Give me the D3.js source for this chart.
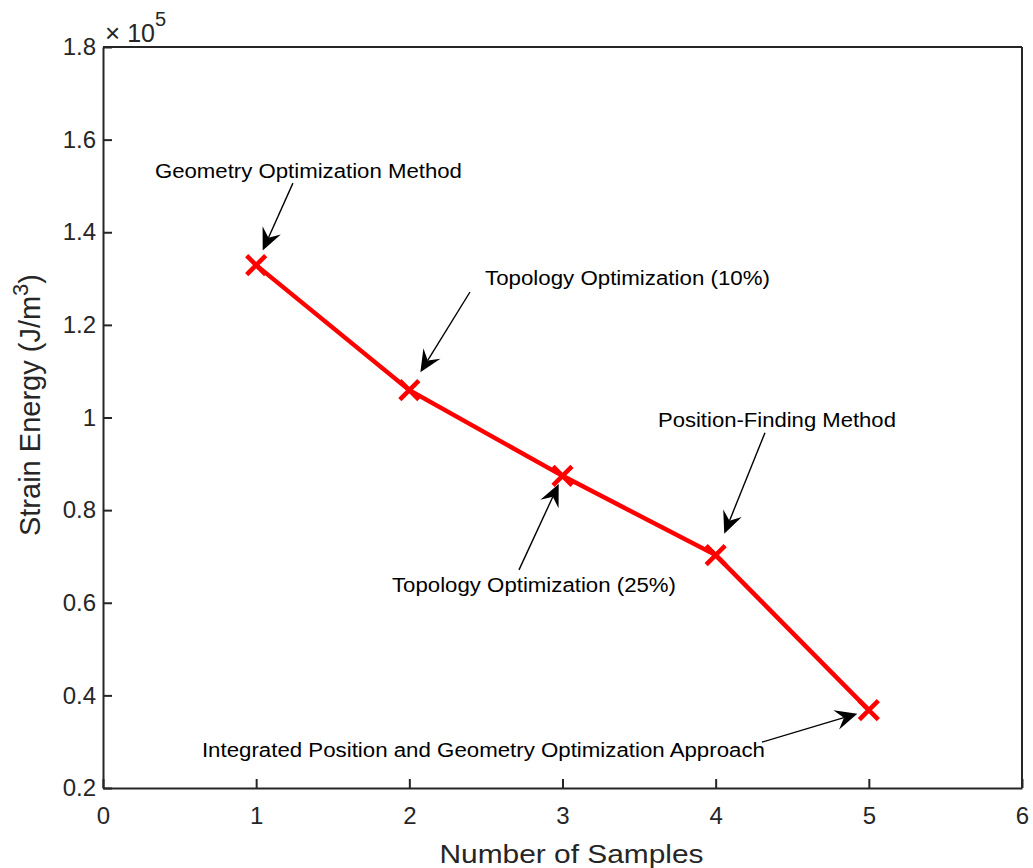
<!DOCTYPE html>
<html>
<head>
<meta charset="utf-8">
<script src="https://cdn.jsdelivr.net/npm/d3@7"></script>
<style>
body { margin: 0; background: #fff; }
text { font-family: "Liberation Sans", Arial, Helvetica, sans-serif; }
</style>
</head>
<body>
<div class="container"></div>
<script>
// data (strain energy in J/m^3)
var samples = [1, 2, 3, 4, 5];
var energy = [132900, 105900, 87400, 70300, 36800];
var xTicks = [0, 1, 2, 3, 4, 5, 6];
var yTicks = [0.2, 0.4, 0.6, 0.8, 1, 1.2, 1.4, 1.6, 1.8];

// annotation labels: text origin and arrow tail in data units, arrow points at sample idx
var notes = [
	{label: 'Geometry Optimization Method', tx: 0.339, ty: 1.517, ax: 1.24, ay: 1.506, gap: 16, len: 307, idx: 0},
	{label: 'Topology Optimization (10%)', tx: 2.494, ty: 1.286, ax: 2.396, ay: 1.271, gap: 21, len: 285, idx: 1},
	{label: 'Position-Finding Method', tx: 3.623, ty: 0.98, ax: 4.322, ay: 0.967, gap: 23, len: 238, idx: 3},
	{label: 'Topology Optimization (25%)', tx: 1.887, ty: 0.623, ax: 2.716, ay: 0.671, gap: 9, len: 284, idx: 2},
	{label: 'Integrated Position and Geometry Optimization Approach', tx: 0.646, ty: 0.267, ax: 4.302, ay: 0.299, gap: 12, len: 563, idx: 4}
];

var W = 1033, H = 868;
var margin = {left: 103, right: 11, top: 47, bottom: 80};

var svg = d3.select('.container').append('svg')
	.attr('width', W)
	.attr('height', H);

var x = d3.scaleLinear().domain([0, 6]).range([margin.left, W - margin.right]);
var y = d3.scaleLinear().domain([0.2, 1.8]).range([H - margin.bottom, margin.top]);

var axisColor = '#262626';

// axes (ticks inward)
var xAxis = svg.append('g')
	.attr('transform', 'translate(0,' + (H - margin.bottom) + ')')
	.call(d3.axisBottom(x).tickValues(xTicks).tickSizeInner(-9).tickSizeOuter(0).tickPadding(19).tickFormat(d3.format('d')));
var yAxis = svg.append('g')
	.attr('transform', 'translate(' + margin.left + ',0)')
	.call(d3.axisLeft(y).tickValues(yTicks).tickSizeInner(-9).tickSizeOuter(0).tickPadding(7).tickFormat(function(d){ return String(+d.toFixed(1)); }));

[xAxis, yAxis].forEach(function(a){
	a.select('.domain').attr('stroke', axisColor).attr('stroke-width', 2);
	a.selectAll('.tick line').attr('stroke', axisColor).attr('stroke-width', 2);
	a.selectAll('.tick text').attr('fill', axisColor).style('font-size', '24px');
});
xAxis.selectAll('.tick text').attr('dy', '0.71em');

// box top and right
svg.append('line')
	.attr('x1', x(0)).attr('x2', x(6)).attr('y1', y(1.8)).attr('y2', y(1.8))
	.attr('stroke', axisColor).attr('stroke-width', 2);
svg.append('line')
	.attr('x1', x(6)).attr('x2', x(6)).attr('y1', y(1.8)).attr('y2', y(0.2))
	.attr('stroke', axisColor).attr('stroke-width', 2);

// exponent label
var expo = svg.append('text')
	.attr('x', x(0) + 2).attr('y', 42)
	.attr('fill', axisColor)
	.style('font-size', '25px');
expo.append('tspan').text('\u00d7').style('font-size', '26px').style('font-weight', 300);
expo.append('tspan').attr('dx', 7).text('10');
expo.append('tspan').attr('dy', -16).style('font-size', '20px').text('5');

// axis labels
svg.append('text')
	.attr('x', (x(0) + x(6)) / 2 + 9).attr('y', 863)
	.attr('text-anchor', 'middle')
	.attr('fill', axisColor)
	.attr('textLength', 264).attr('lengthAdjust', 'spacingAndGlyphs')
	.style('font-size', '25.5px')
	.text('Number of Samples');

var yl = svg.append('text')
	.attr('transform', 'translate(40,405) rotate(-90)')
	.attr('text-anchor', 'middle')
	.attr('fill', axisColor)
	.style('font-size', '29px');
yl.append('tspan').text('Strain Energy (J/m');
yl.append('tspan').attr('dy', -12).style('font-size', '22px').text('3');
yl.append('tspan').attr('dy', 12).text(')');

// line and markers
var pts = samples.map(function(s, i){ return [s, energy[i] / 1e5]; });
var line = d3.line().x(function(d){ return x(d[0]); }).y(function(d){ return y(d[1]); });

svg.append('path')
	.datum(pts)
	.attr('d', line)
	.attr('fill', 'none')
	.attr('stroke', '#ff0000')
	.attr('stroke-width', 4.5);

var m = 9.5;
svg.selectAll('.mark').data(pts).enter().append('path')
	.attr('class', 'mark')
	.attr('d', function(d){
		var cx = x(d[0]), cy = y(d[1]);
		return 'M' + (cx - m) + ',' + (cy - m) + 'L' + (cx + m) + ',' + (cy + m) +
			'M' + (cx - m) + ',' + (cy + m) + 'L' + (cx + m) + ',' + (cy - m);
	})
	.attr('stroke', '#ff0000')
	.attr('stroke-width', 4.5)
	.attr('fill', 'none');

// annotations
notes.forEach(function(n){
	var p = pts[n.idx];
	var px = x(p[0]), py = y(p[1]);
	var sx = x(n.ax), sy = y(n.ay);
	var dx = px - sx, dy = py - sy, L = Math.sqrt(dx * dx + dy * dy);
	var ux = dx / L, uy = dy / L;
	// tip stops short of the marker
	var tx = px - ux * n.gap, ty = py - uy * n.gap;
	var hl = 22, hw = 10, back = 14;
	var bx = tx - ux * hl, by = ty - uy * hl;
	var nx = -uy, ny = ux;
	svg.append('line')
		.attr('x1', sx).attr('y1', sy)
		.attr('x2', tx - ux * back).attr('y2', ty - uy * back)
		.attr('stroke', '#000').attr('stroke-width', 1.4);
	svg.append('path')
		.attr('d', 'M' + tx + ',' + ty +
			'L' + (bx + nx * hw) + ',' + (by + ny * hw) +
			'L' + (tx - ux * back) + ',' + (ty - uy * back) +
			'L' + (bx - nx * hw) + ',' + (by - ny * hw) + 'Z')
		.attr('fill', '#000');
	svg.append('text')
		.attr('x', x(n.tx)).attr('y', y(n.ty))
		.attr('fill', '#000')
		.attr('textLength', n.len).attr('lengthAdjust', 'spacingAndGlyphs')
		.style('font-size', '20px')
		.text(n.label);
});
</script>
</body>
</html>
